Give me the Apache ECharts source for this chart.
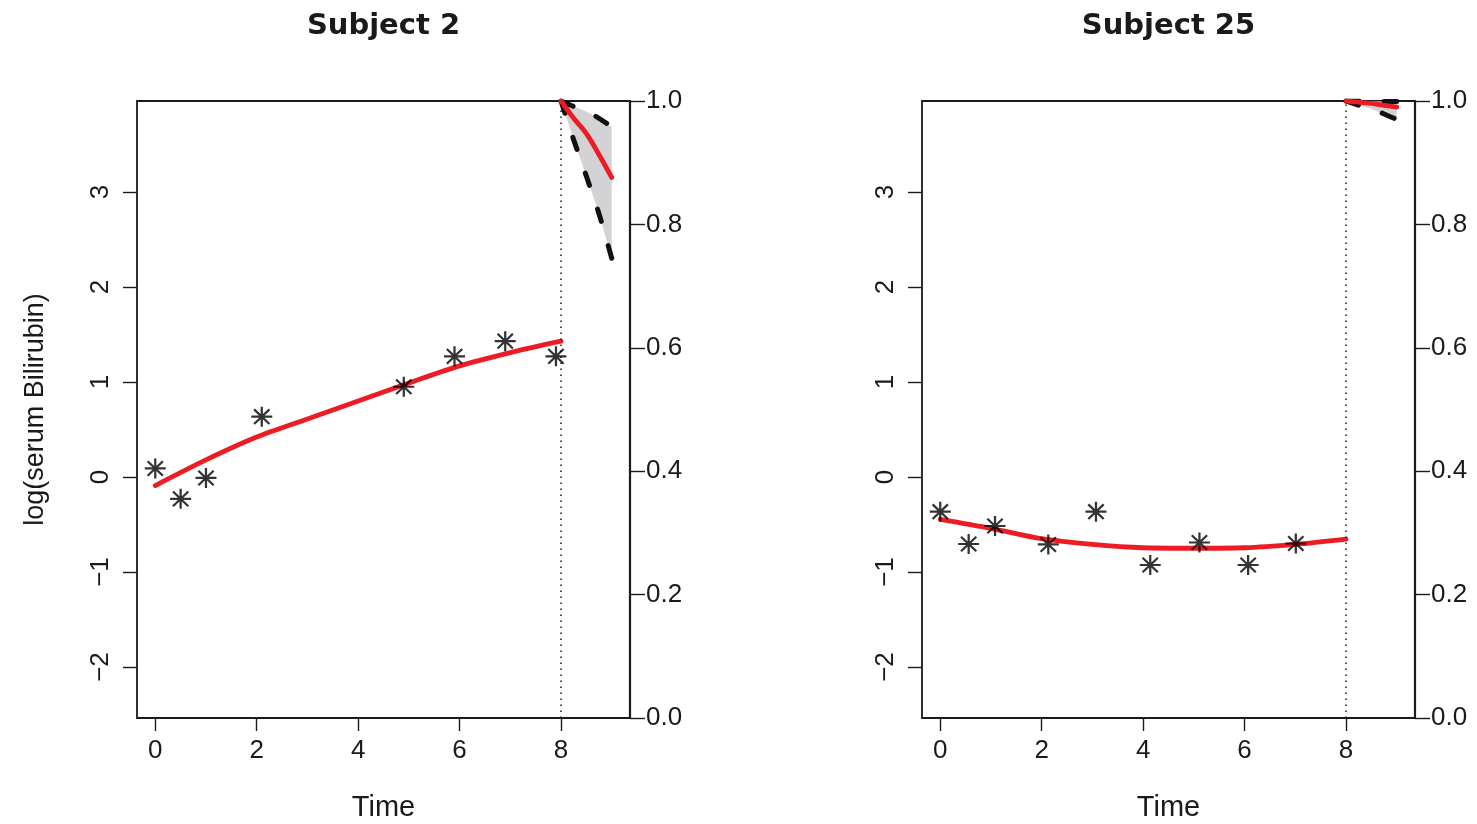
<!DOCTYPE html>
<html><head><meta charset="utf-8">
<script src="https://cdn.jsdelivr.net/npm/echarts@6/dist/echarts.min.js"></script>
<style>html,body{margin:0;padding:0;background:#fff;overflow:hidden;width:1477px;height:824px}
#c{position:absolute;left:0;top:0;width:1477px;height:824px}</style>
</head><body><div id="c"></div>
<script>
// ---- data ----
const panelTitles = ['Subject 2', 'Subject 25'];
const xTicks = [0, 2, 4, 6, 8];
const yTicks = [-2, -1, 0, 1, 2, 3];
const cutoffTime = 8;

const s2ObsTime  = [0, 0.5, 1, 2.1, 4.9, 5.9, 6.9, 7.9];
const s2ObsValue = [0.09, -0.23, -0.01, 0.635, 0.95, 1.27, 1.43, 1.27];
const s2FitTime  = [0, 1, 2, 3, 4, 5, 6, 7, 8];
const s2FitValue = [-0.09, 0.18, 0.42, 0.61, 0.80, 0.99, 1.17, 1.31, 1.43];
const s2SurvTime  = [8, 8.25, 8.5, 8.75, 9];
const s2SurvMean  = [1.0, 0.972, 0.947, 0.913, 0.876];
const s2SurvLower = [1.0, 0.937, 0.878, 0.817, 0.745];
const s2SurvUpper = [1.0, 0.991, 0.983, 0.972, 0.958];

const s25ObsTime  = [0, 0.56, 1.08, 2.13, 3.07, 4.14, 5.11, 6.07, 7.01];
const s25ObsValue = [-0.365, -0.705, -0.516, -0.71, -0.365, -0.926, -0.69, -0.926, -0.70];
const s25FitTime  = [0, 1, 2, 3, 4, 5, 6, 7, 8];
const s25FitValue = [-0.445, -0.54, -0.65, -0.71, -0.745, -0.75, -0.745, -0.71, -0.655];
const s25SurvTime  = [8, 8.25, 8.5, 8.75, 9];
const s25SurvMean  = [1.0, 0.998, 0.996, 0.993, 0.990];
const s25SurvLower = [1.0, 0.993, 0.987, 0.979, 0.970];
const s25SurvUpper = [1.0, 1.0, 0.9995, 0.9993, 0.999];

const panels = [
  {obsT: s2ObsTime, obsV: s2ObsValue, fitT: s2FitTime, fitV: s2FitValue,
   sT: s2SurvTime, sM: s2SurvMean, sL: s2SurvLower, sU: s2SurvUpper},
  {obsT: s25ObsTime, obsV: s25ObsValue, fitT: s25FitTime, fitV: s25FitValue,
   sT: s25SurvTime, sM: s25SurvMean, sL: s25SurvLower, sU: s25SurvUpper}
];

// ---- chart ----
const INK = '#1a1a1a';
const RED = '#ed1c24';
const FONT = 'Liberation Sans, Arial, sans-serif';
const gridLefts = [137, 922];
const W = 493, TOP = 101, H = 617;
const pair = (a, b) => a.map((v, i) => [v, b[i]]);
const star = 'path://M0,-10L0,10M-10,0L10,0M-7.3,-7.3L7.3,7.3M-7.3,7.3L7.3,-7.3';

const option = {
  animation: false,
  backgroundColor: '#fff',
  title: panelTitles.map((t, i) => ({
    text: t, left: gridLefts[i] + W / 2, top: 12, textAlign: 'center', padding: 0,
    textStyle: {fontFamily: 'DejaVu Sans', fontWeight: 'bold', fontSize: 29, color: INK}
  })),
  grid: gridLefts.map(l => ({left: l, top: TOP, width: W, height: H, show: true,
    outerBoundsMode: 'none', containLabel: false,
    borderColor: INK, borderWidth: 1.8, backgroundColor: 'transparent'})),
  xAxis: gridLefts.map((l, i) => ({
    gridIndex: i, type: 'value', min: -0.36, max: 9.36,
    axisLine: {show: false, onZero: false}, splitLine: {show: false},
    axisTick: {show: true, customValues: xTicks, length: 13, lineStyle: {color: INK, width: 1.4}},
    axisLabel: {customValues: xTicks, margin: 20, fontSize: 26, color: INK, fontFamily: FONT},
    name: 'Time', nameLocation: 'middle', nameGap: 75,
    nameTextStyle: {fontSize: 29, color: INK, fontFamily: FONT}
  })),
  yAxis: [].concat(...gridLefts.map((l, i) => ([
    {
      gridIndex: i, type: 'value', min: -2.537, max: 3.958, position: 'left',
      axisLine: {show: false, onZero: false}, splitLine: {show: false},
      axisTick: {show: true, customValues: yTicks, length: 14, lineStyle: {color: INK, width: 1.4}},
      axisLabel: {customValues: yTicks, rotate: 90, margin: 23, fontSize: 26, color: INK, fontFamily: FONT,
        formatter: v => (v < 0 ? '\u2212' + Math.abs(v) : String(v))},
      name: i === 0 ? 'log(serum Bilirubin)' : '', nameLocation: 'middle', nameGap: 88, nameRotate: 90,
      nameTextStyle: {fontSize: 27, color: INK, fontFamily: FONT}
    },
    {
      gridIndex: i, type: 'value', min: 0, max: 1, interval: 0.2, position: 'right',
      axisLine: {show: true, onZero: false, lineStyle: {color: INK, width: 2.2}}, splitLine: {show: false},
      axisTick: {show: true, length: 15, lineStyle: {color: INK, width: 1.4}},
      axisLabel: {margin: 16, fontSize: 26, color: INK, fontFamily: FONT, formatter: v => v.toFixed(1)}
    }
  ]))),
  series: []
};

panels.forEach((p, i) => {
  const xi = i, yl = 2 * i, yr = 2 * i + 1;
  // confidence band polygon
  option.series.push({
    type: 'custom', xAxisIndex: xi, yAxisIndex: yr, silent: true, z: 1, clip: true,
    data: p.sT.map((t, k) => [t, p.sL[k], p.sU[k]]),
    renderItem: (params, api) => {
      if (params.dataIndex !== 0) return null;
      const up = p.sT.map((t, k) => api.coord([t, p.sU[k]]));
      const lo = p.sT.map((t, k) => api.coord([t, p.sL[k]])).reverse();
      return {type: 'polygon', shape: {points: up.concat(lo)}, style: {fill: '#d3d3d5'}};
    }
  });
  // dashed bounds
  [p.sL, p.sU].forEach(arr => option.series.push({
    type: 'line', xAxisIndex: xi, yAxisIndex: yr, symbol: 'none', smooth: 0.3,
    lineStyle: {color: '#111', width: 5, type: [13, 25], cap: 'round'},
    data: pair(p.sT, arr), z: 3
  }));
  // mean survival
  option.series.push({
    type: 'line', xAxisIndex: xi, yAxisIndex: yr, symbol: 'none', smooth: 0.4,
    lineStyle: {color: RED, width: 4.8, cap: 'round'}, data: pair(p.sT, p.sM), z: 4
  });
  // fitted longitudinal trajectory + cutoff line
  option.series.push({
    type: 'line', xAxisIndex: xi, yAxisIndex: yl, symbol: 'none', smooth: 0.3,
    lineStyle: {color: RED, width: 4.8, cap: 'round'}, data: pair(p.fitT, p.fitV), z: 4,
    markLine: {silent: true, symbol: 'none', label: {show: false},
      lineStyle: {color: INK, width: 1.5, type: [1.5, 4.5]}, data: [{xAxis: cutoffTime}]}
  });
  // observations
  option.series.push({
    type: 'scatter', xAxisIndex: xi, yAxisIndex: yl, symbol: star, symbolSize: [21, 20],
    itemStyle: {color: 'transparent', borderColor: '#000', borderWidth: 2.2},
    data: pair(p.obsT, p.obsV), z: 5
  });
});

const chart = echarts.init(document.getElementById('c'), null, {renderer: 'canvas'});
chart.setOption(option);
</script></body></html>
